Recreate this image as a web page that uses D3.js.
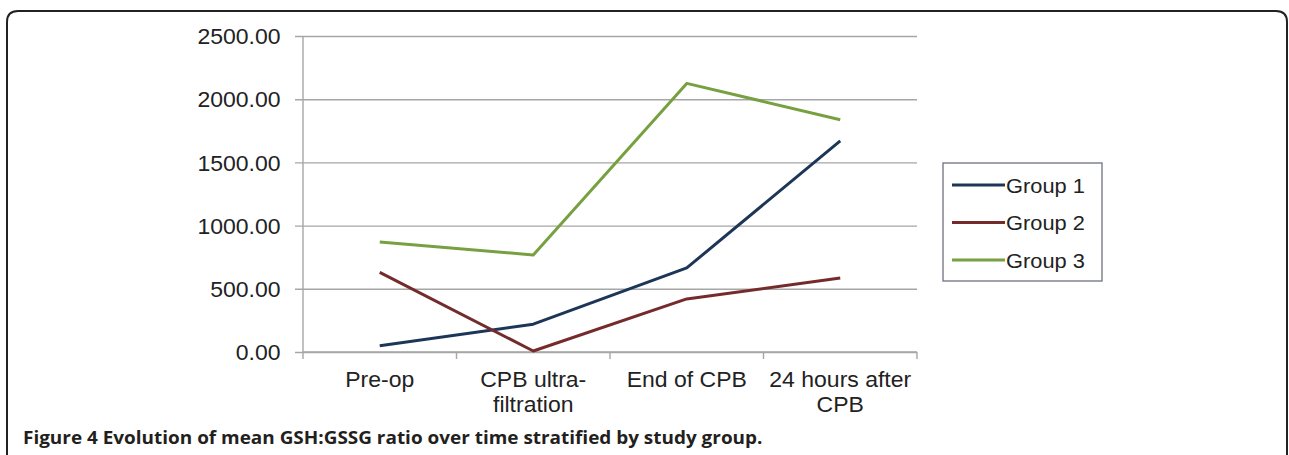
<!DOCTYPE html>
<html><head><meta charset="utf-8">
<script src="https://cdn.jsdelivr.net/npm/d3@7"></script>
<style>body{margin:0;background:#fff;}svg{display:block;}</style>
</head><body>
<svg id="c" width="1289" height="455"></svg>
<script>
const categories = [["Pre-op"], ["CPB ultra-", "filtration"], ["End of CPB"], ["24 hours after", "CPB"]];
const seriesNames = ["Group 1", "Group 2", "Group 3"];
const group1 = [50, 220, 665, 1670];
const group2 = [630, 8, 420, 585];
const group3 = [870, 768, 2125, 1838];
const yTicks = [0, 500, 1000, 1500, 2000, 2500];
const colors = ["#1d3657", "#752b2b", "#77a040"];
const series = [group1, group2, group3];

const svg = d3.select("#c");
// frame
svg.append("path")
  .attr("d", "M7,470 L7,22 Q7,11 18,11 L1276,11 Q1287,11 1287,22 L1287,470")
  .attr("fill", "none").attr("stroke", "#222").attr("stroke-width", 2);

const pLeft = 303, pRight = 917, pTop = 36, pBottom = 352;
const x = d3.scaleBand().domain(d3.range(categories.length)).range([pLeft, pRight]);
const y = d3.scaleLinear().domain([0, 2500]).range([pBottom, pTop]);
const font = "'Liberation Sans', Arial, sans-serif";
const fs = 21.5, sx = 1.07;

// gridlines
const yAxis = d3.axisLeft(y).tickValues(yTicks).tickSize(-(pRight - pLeft)).tickPadding(21)
  .tickFormat(d => d.toFixed(2));
const gy = svg.append("g").attr("transform", `translate(${pLeft},0)`).call(yAxis);
gy.select(".domain").remove();
gy.selectAll(".tick line").attr("stroke", "#a6a6a6").attr("stroke-width", 1.4).attr("x1", -8);
gy.selectAll(".tick text").attr("font-family", font).attr("font-size", fs).attr("fill", "#222")
  .attr("dy", "0.36em").attr("transform", `scale(${sx},1)`);

// y axis line
svg.append("line").attr("x1", pLeft).attr("x2", pLeft).attr("y1", pTop).attr("y2", pBottom)
  .attr("stroke", "#a6a6a6").attr("stroke-width", 1.4);

// x axis
const gx = svg.append("g").attr("transform", `translate(0,${pBottom})`);
gx.append("line").attr("x1", pLeft).attr("x2", pRight).attr("stroke", "#a6a6a6").attr("stroke-width", 1.4);
const bounds = d3.range(categories.length + 1).map(i => i < categories.length ? x(i) : x(i - 1) + x.bandwidth());
gx.selectAll("line.tk").data(bounds).join("line").attr("class", "tk")
  .attr("x1", d => d).attr("x2", d => d).attr("y1", 0).attr("y2", 7)
  .attr("stroke", "#a6a6a6").attr("stroke-width", 1.4);
categories.forEach((lines, i) => {
  const g = gx.append("g").attr("transform", `translate(${x(i) + x.bandwidth() / 2},0) scale(${sx},1)`);
  const t = g.append("text").attr("text-anchor", "middle").attr("font-family", font)
    .attr("font-size", fs).attr("fill", "#222");
  lines.forEach((l, j) => t.append("tspan").attr("x", 0).attr("y", 35 + j * 25.5).text(l));
});

// lines
const line = d3.line().x((d, i) => x(i) + x.bandwidth() / 2).y(d => y(d));
series.forEach((s, k) => {
  svg.append("path").datum(s).attr("d", line).attr("fill", "none")
    .attr("stroke", colors[k]).attr("stroke-width", 3).attr("stroke-linejoin", "round");
});

// legend
const lg = svg.append("g");
lg.append("rect").attr("x", 943).attr("y", 163).attr("width", 159).attr("height", 118)
  .attr("fill", "#fff").attr("stroke", "#6d7280").attr("stroke-width", 1.3);
seriesNames.forEach((n, k) => {
  const yy = 185 + k * 37.5;
  lg.append("line").attr("x1", 952).attr("x2", 1005).attr("y1", yy).attr("y2", yy)
    .attr("stroke", colors[k]).attr("stroke-width", 3);
  lg.append("text").attr("transform", `translate(1006,${yy + 7.5}) scale(1.04,1)`).attr("font-family", font)
    .attr("font-size", 21).attr("fill", "#222").text(n);
});

// caption
const capG = svg.append("g").attr("transform", "translate(23,444)");
const cap = capG.append("text").attr("x", 0).attr("y", 0)
  .attr("font-family", "'Open Sans', 'Noto Sans', sans-serif").attr("font-size", 17)
  .attr("font-weight", "bold").attr("fill", "#231f20");
cap.append("tspan").text("Figure 4");
cap.append("tspan").text(" Evolution of mean GSH:GSSG ratio over time stratified by study group.");
const capW = cap.node().getComputedTextLength();
capG.attr("transform", `translate(23,444) scale(${740 / capW},1)`);
</script>
</body></html>
